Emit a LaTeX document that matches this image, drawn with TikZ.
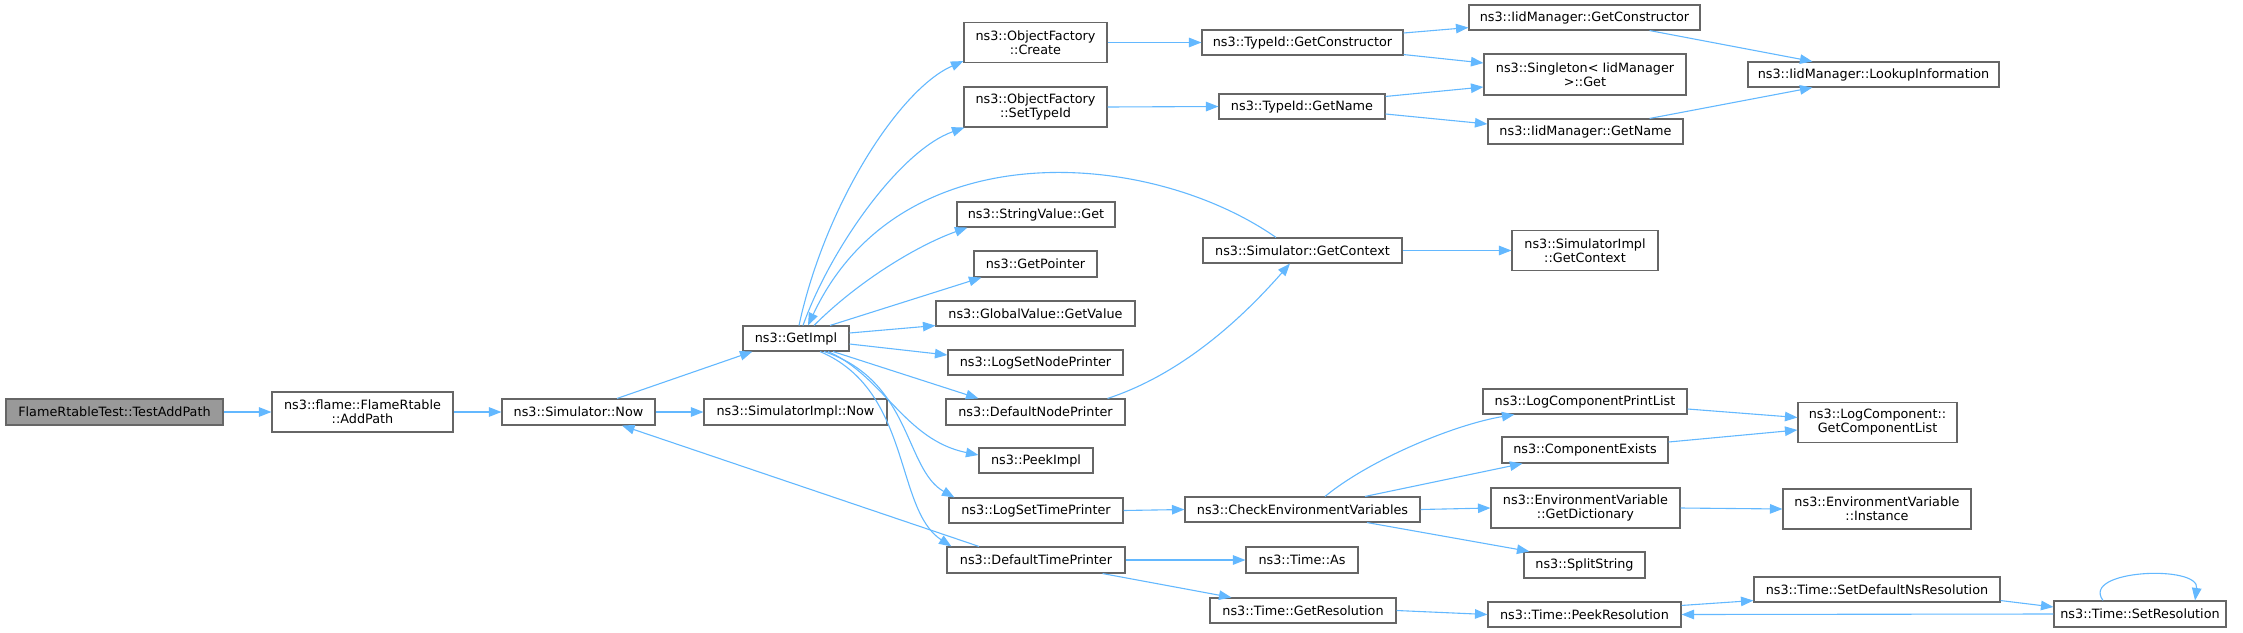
\documentclass[tikz,border=0pt]{standalone}
\usepackage{fontspec}
\setmainfont{DejaVu Sans}
\usetikzlibrary{arrows.meta}
\definecolor{edgeblue}{RGB}{99,184,255}
\definecolor{boxgray}{RGB}{102,102,102}
\definecolor{fillgray}{RGB}{153,153,153}
\begin{document}
\begin{tikzpicture}[x=1pt,y=-1pt,
  box/.style={draw=boxgray, line width=1.1pt, fill=white, inner sep=0pt, align=center,
    font=\fontsize{12.8}{14}\selectfont, text=black},
  rootbox/.style={box, fill=fillgray},
  call/.style={draw=edgeblue, line width=1.1pt, color=edgeblue, -{Triangle[length=12.5pt,width=9.5pt]}}]
\useasboundingbox (0,0) rectangle (2243,632);
% nodes
\node[rootbox, minimum width=217pt, minimum height=26pt] (tap) at (114.5,412) {FlameRtableTest::TestAddPath};
\node[box, minimum width=181pt, minimum height=40pt] (addpath) at (362.5,412) {ns3::flame::FlameRtable\\::AddPath};
\node[box, minimum width=153pt, minimum height=26pt] (simnow) at (578.5,412) {ns3::Simulator::Now};
\node[box, minimum width=183pt, minimum height=26pt] (simimplnow) at (795.5,412) {ns3::SimulatorImpl::Now};
\node[box, minimum width=106pt, minimum height=25pt] (getimpl) at (796,338.5) {ns3::GetImpl};
\node[box, minimum width=143pt, minimum height=40pt] (create) at (1035.5,42.5) {ns3::ObjectFactory\\::Create};
\node[box, minimum width=143pt, minimum height=40pt] (settypeid) at (1035.5,107) {ns3::ObjectFactory\\::SetTypeId};
\node[box, minimum width=201pt, minimum height=25pt] (tgc) at (1302.5,42.5) {ns3::TypeId::GetConstructor};
\node[box, minimum width=166pt, minimum height=25pt] (tgn) at (1302,106.5) {ns3::TypeId::GetName};
\node[box, minimum width=231pt, minimum height=25pt] (igc) at (1584.5,17.5) {ns3::IidManager::GetConstructor};
\node[box, minimum width=202pt, minimum height=41pt] (single) at (1585,74.5) {ns3::Singleton< IidManager\\>::Get};
\node[box, minimum width=195pt, minimum height=25pt] (ign) at (1585.5,131.5) {ns3::IidManager::GetName};
\node[box, minimum width=251pt, minimum height=25pt] (lookup) at (1873.5,74.5) {ns3::IidManager::LookupInformation};
\node[box, minimum width=158pt, minimum height=25pt] (strget) at (1036,214.5) {ns3::StringValue::Get};
\node[box, minimum width=123pt, minimum height=26pt] (getptr) at (1035.5,264) {ns3::GetPointer};
\node[box, minimum width=199pt, minimum height=25pt] (gvget) at (1035.5,313.5) {ns3::GlobalValue::GetValue};
\node[box, minimum width=175pt, minimum height=25pt] (lsnp) at (1035.5,362.5) {ns3::LogSetNodePrinter};
\node[box, minimum width=179pt, minimum height=26pt] (dnp) at (1035.5,412) {ns3::DefaultNodePrinter};
\node[box, minimum width=114pt, minimum height=25pt] (peek) at (1036,460.5) {ns3::PeekImpl};
\node[box, minimum width=174pt, minimum height=25pt] (lstp) at (1036,510.5) {ns3::LogSetTimePrinter};
\node[box, minimum width=178pt, minimum height=26pt] (dtp) at (1036,560) {ns3::DefaultTimePrinter};
\node[box, minimum width=199pt, minimum height=25pt] (sgc) at (1302.5,250.5) {ns3::Simulator::GetContext};
\node[box, minimum width=146pt, minimum height=40pt] (sigc) at (1585,250.5) {ns3::SimulatorImpl\\::GetContext};
\node[box, minimum width=235pt, minimum height=25pt] (cev) at (1302.5,509.5) {ns3::CheckEnvironmentVariables};
\node[box, minimum width=204pt, minimum height=25pt] (lcpl) at (1585,401.5) {ns3::LogComponentPrintList};
\node[box, minimum width=159pt, minimum height=40pt] (gcl) at (1877.5,422.5) {ns3::LogComponent::\\GetComponentList};
\node[box, minimum width=166pt, minimum height=26pt] (cex) at (1585,450) {ns3::ComponentExists};
\node[box, minimum width=189pt, minimum height=40pt] (gdict) at (1585.5,508) {ns3::EnvironmentVariable\\::GetDictionary};
\node[box, minimum width=188pt, minimum height=40pt] (inst) at (1877,509) {ns3::EnvironmentVariable\\::Instance};
\node[box, minimum width=121pt, minimum height=26pt] (split) at (1584.5,565) {ns3::SplitString};
\node[box, minimum width=112pt, minimum height=26pt] (tas) at (1302,560) {ns3::Time::As};
\node[box, minimum width=186pt, minimum height=25pt] (tgr) at (1303,610.5) {ns3::Time::GetResolution};
\node[box, minimum width=193pt, minimum height=25pt] (tpr) at (1584.5,614.5) {ns3::Time::PeekResolution};
\node[box, minimum width=246pt, minimum height=25pt] (tsdnr) at (1877,589.5) {ns3::Time::SetDefaultNsResolution};
\node[box, minimum width=172pt, minimum height=26pt] (tsr) at (2140,614) {ns3::Time::SetResolution};
% edges
\draw[call] (tap.east) -- (addpath.west);
\draw[call] (addpath.east) -- (simnow.west);
\draw[call] ([xshift=38.5pt]simnow.north) -- ([xshift=10pt]getimpl.south west);
\draw[call] (simnow.east) -- (simimplnow.west);
\draw[call] ([xshift=3pt]getimpl.north) .. controls +(26,-121) and +(-64,28) .. ([yshift=2pt]create.south west);
\draw[call] ([xshift=7pt]getimpl.north) .. controls +(27,-76) and +(-65,23) .. ([xshift=1pt]settypeid.south west);
\draw[call] ([xshift=-26.5pt]sgc.north) .. controls +(-126,-88) and +(92,-196) .. ([xshift=12pt]getimpl.north);
\draw[call] ([xshift=18pt]getimpl.north) .. controls +(46,-46) and +(-48,17) .. ([xshift=11pt]strget.south west);
\draw[call] ([xshift=34pt]getimpl.north) -- ([xshift=8pt]getptr.south west);
\draw[call] ([yshift=5.5pt]getimpl.east) -- ([yshift=1pt]gvget.south west);
\draw[call] ([yshift=-5.5pt]getimpl.east) -- ([yshift=7.5pt]lsnp.west);
\draw[call] ([xshift=37pt]getimpl.south) -- ([xshift=33pt]dnp.north west);
\draw[call] ([xshift=32pt]getimpl.south) .. controls +(55,24) and +(-74,-15) .. ([yshift=5.5pt]peek.west);
\draw[call] ([xshift=28pt]getimpl.south) .. controls +(88,29) and +(-50,-28) .. ([xshift=6pt]lstp.north west);
\draw[call] ([xshift=24pt]getimpl.south) .. controls +(92,39) and +(-57,-37) .. ([xshift=5pt]dtp.north west);
\draw[call] ([xshift=-18pt]dnp.north east) .. controls +(73,-24) and +(-50,57) .. ([xshift=-12.5pt]sgc.south);
\draw[call] (sgc.east) -- (sigc.west);
\draw[call] ([xshift=-57pt]dtp.north) -- ([xshift=43.5pt]simnow.south);
\draw[call] (dtp.east) -- (tas.west);
\draw[call] ([xshift=-23pt]dtp.south east) -- ([xshift=22pt]tgr.north west);
\draw[call] (lstp.east) -- (cev.west);
\draw[call] ([xshift=22.5pt]cev.north) .. controls +(45,-37) and +(-60,10) .. ([xshift=32pt]lcpl.south west);
\draw[call] ([xshift=62.5pt]cev.north) -- ([xshift=21pt]cex.south west);
\draw[call] (cev.east) -- (gdict.west);
\draw[call] ([xshift=64.5pt]cev.south) -- ([xshift=6pt]split.north west);
\draw[call] ([yshift=-7.5pt]lcpl.east) -- ([yshift=5pt]gcl.west);
\draw[call] ([yshift=8pt]cex.east) -- ([yshift=-7.5pt]gcl.west);
\draw[call] (gdict.east) -- (inst.west);
\draw[call] (create.east) -- (tgc.west);
\draw[call] (settypeid.east) -- (tgn.west);
\draw[call] ([yshift=9.5pt]tgc.east) -- ([yshift=3pt]igc.south west);
\draw[call] ([yshift=1pt]tgc.south east) -- ([yshift=11.5pt]single.west);
\draw[call] ([yshift=-3pt]tgn.north east) -- ([yshift=-12.5pt]single.west);
\draw[call] ([yshift=-7.5pt]tgn.east) -- ([yshift=7.5pt]ign.west);
\draw[call] ([xshift=-51pt]igc.south east) -- ([xshift=65pt]lookup.north west);
\draw[call] ([xshift=-34pt]ign.north east) -- ([xshift=65pt]lookup.south west);
\draw[call] (tgr.east) -- (tpr.west);
\draw[call] ([yshift=-4pt]tpr.north east) -- ([yshift=2pt]tsdnr.south west);
\draw[call] ([yshift=2pt]tsdnr.south east) -- ([yshift=7pt]tsr.west);
\draw[call] (tsr.west) -- (tpr.east);
\draw[call] ([xshift=-37pt]tsr.north) .. controls +(-23,-31) and +(5,-36) .. ([xshift=55pt]tsr.north);
\end{tikzpicture}
\end{document}
